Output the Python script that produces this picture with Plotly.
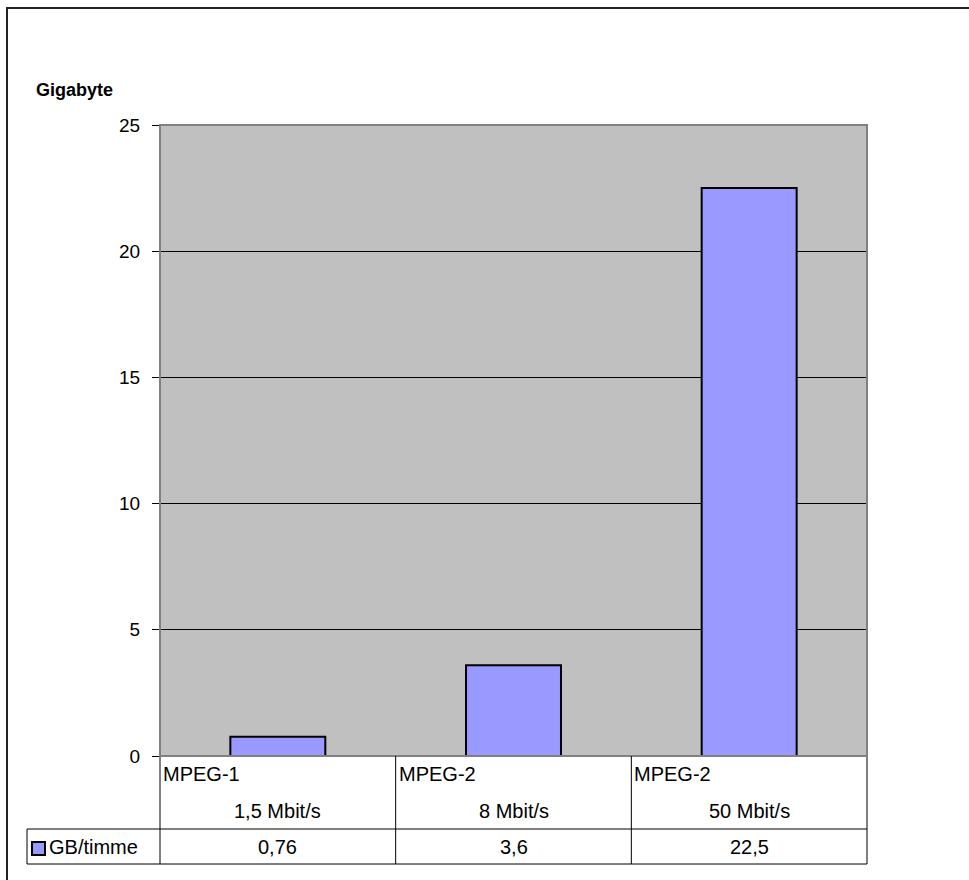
import plotly.graph_objects as go

# ---- data ----
codecs = ["MPEG-1", "MPEG-2", "MPEG-2"]
bitrates = ["1,5 Mbit/s", "8 Mbit/s", "50 Mbit/s"]
gb_per_hour = [0.76, 3.6, 22.5]
series_name = "GB/timme"
y_title = "Gigabyte"
y_ticks = [0, 5, 10, 15, 20, 25]

W, H = 969, 880
L, R, T, B = 160, 867, 125, 756  # plot area in pixels
PW, PH = R - L, B - T

def px(x):
    return (x - L) / PW

def py(y):
    return (B - y) / PH

FONT = "Liberation Sans, Arial, sans-serif"
BAR = "#9999FF"
GRAY = "#808080"

cats = list(range(len(codecs)))

fig = go.Figure()
fig.add_trace(go.Bar(
    x=cats, y=gb_per_hour, name=series_name,
    marker=dict(color=BAR, line=dict(color="black", width=2)),
    showlegend=False, hoverinfo="y",
))

shapes = []
ann = []

# outer chart border (extends past window)
shapes.append(dict(type="rect", xref="paper", yref="paper",
                   x0=px(7), x1=px(1100), y0=py(1000), y1=py(8),
                   line=dict(color="#222", width=2), layer="below"))
# plot-area border
shapes.append(dict(type="rect", xref="paper", yref="paper",
                   x0=0, x1=1, y0=0, y1=1,
                   line=dict(color=GRAY, width=2), layer="above"))

# data table lines
row_line = 829
bottom = 864
tleft = 27
shapes.append(dict(type="line", xref="paper", yref="paper", x0=0, x1=0,
                   y0=py(bottom), y1=0, line=dict(color=GRAY, width=2)))
shapes.append(dict(type="line", xref="paper", yref="paper", x0=1, x1=1,
                   y0=py(bottom), y1=0, line=dict(color=GRAY, width=2)))
for i in range(1, len(cats)):
    shapes.append(dict(type="line", xref="x", yref="paper", x0=i - 0.5, x1=i - 0.5,
                       y0=py(bottom), y1=0, line=dict(color="black", width=1)))
shapes.append(dict(type="line", xref="paper", yref="paper", x0=px(tleft), x1=1,
                   y0=py(row_line), y1=py(row_line), line=dict(color="black", width=1)))
shapes.append(dict(type="line", xref="paper", yref="paper", x0=px(tleft), x1=1,
                   y0=py(bottom), y1=py(bottom), line=dict(color="black", width=1)))
shapes.append(dict(type="line", xref="paper", yref="paper", x0=px(tleft), x1=px(tleft),
                   y0=py(bottom), y1=py(row_line), line=dict(color="black", width=1)))
# legend key
shapes.append(dict(type="rect", xref="paper", yref="paper",
                   x0=px(32), x1=px(45), y0=py(855), y1=py(842),
                   fillcolor=BAR, line=dict(color="black", width=2)))

tfont = dict(family=FONT, size=20, color="black")
for i, (c, b, v) in enumerate(zip(codecs, bitrates, gb_per_hour)):
    ann.append(dict(x=i - 0.5, y=py(774), xref="x", yref="paper", text=c,
                    showarrow=False, xanchor="left", yanchor="middle", xshift=1, font=tfont))
    ann.append(dict(x=i, y=py(811), xref="x", yref="paper", text=b,
                    showarrow=False, xanchor="center", yanchor="middle", font=tfont))
    ann.append(dict(x=i, y=py(847), xref="x", yref="paper",
                    text=(f"{v:g}").replace(".", ","),
                    showarrow=False, xanchor="center", yanchor="middle", font=tfont))
ann.append(dict(x=px(47), y=py(847), xref="paper", yref="paper", text=series_name,
                showarrow=False, xanchor="left", yanchor="middle", font=tfont))
ann.append(dict(x=px(34), y=py(90), xref="paper", yref="paper", text=f"<b>{y_title}</b>",
                showarrow=False, xanchor="left", yanchor="middle",
                font=dict(family=FONT, size=18, color="black")))

fig.update_layout(
    width=W, height=H,
    margin=dict(l=L, r=W - R, t=T, b=H - B, pad=0),
    paper_bgcolor="white", plot_bgcolor="#C0C0C0",
    bargap=0.597,
    shapes=shapes, annotations=ann,
    font=tfont,
)
fig.update_xaxes(type="linear", range=[-0.5, len(cats) - 0.5], showticklabels=False,
                 showgrid=False, zeroline=False, showline=False, ticks="")
fig.update_yaxes(range=[0, 25], tickvals=y_ticks, ticks="outside", ticklen=7,
                 tickcolor="black", tickwidth=1, showgrid=True, gridcolor="black",
                 gridwidth=1, zeroline=False, showline=False,
                 ticklabelstandoff=8, tickfont=dict(family=FONT, size=19, color="black"))

fig.write_html("out.html")
